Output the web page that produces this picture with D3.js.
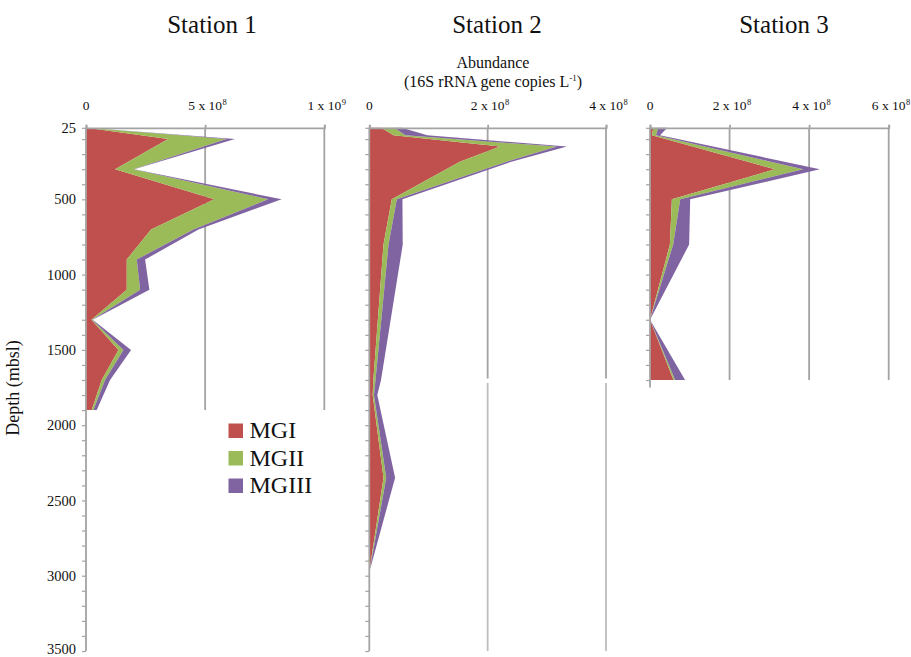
<!DOCTYPE html>
<html>
<head>
<meta charset="utf-8">
<script src="https://cdn.jsdelivr.net/npm/d3@7"></script>
<style>
  html, body { margin: 0; padding: 0; background: #fff; }
  svg { display: block; }
  text { font-family: "Liberation Serif", "Times New Roman", serif; fill: #111; }
</style>
</head>
<body>
<svg id="chart" width="911" height="657"></svg>
<script>
// Archaeal group abundances (16S rRNA gene copies per litre) by depth
const groups = ["MGI", "MGII", "MGIII"];
const groupColors = ["#C0504D", "#9BBB59", "#8064A2"];

const stations = ["Station 1", "Station 2", "Station 3"];

const depth1 = [25, 100, 300, 500, 700, 900, 1100, 1300, 1500, 1700, 1900];
const mgi1   = [2e6, 3.45e8, 1.22e8, 5.38e8, 2.73e8, 1.71e8, 1.71e8, 2.3e7, 1.36e8, 6.6e7, 2.4e7];
const mgii1  = [3e6, 2.45e8, 7.7e7, 2.27e8, 1.78e8, 4.2e7, 5.6e7, 3e6, 2.1e7, 1.4e7, 7e6];
const mgiii1 = [1e6, 3.5e7, 3e6, 5.6e7, 2.1e7, 3.5e7, 3.9e7, 2e6, 3.2e7, 2.1e7, 1.4e7];

const depth2 = [25, 75, 150, 250, 500, 800, 1700, 1800, 2350, 2950];
const mgi2   = [2.0e7, 4.1e7, 2.21e8, 1.53e8, 3.8e7, 2.4e7, 6.8e6, 5.7e6, 2.4e7, 1e6];
const mgii2  = [2.2e7, 2.0e7, 9.6e7, 7.9e7, 8.5e6, 8.5e6, 3.7e6, 2.2e6, 4.6e6, 3e5];
const mgiii2 = [1.3e7, 3.7e7, 1.7e7, 8e6, 9.5e6, 2.4e7, 9.3e6, 5.6e6, 1.5e7, 5e5];

const depth3 = [25, 75, 300, 500, 800, 1300, 1700];
const mgi3   = [8.3e6, 5e6, 3.14e8, 5.5e7, 5e7, 0, 5.9e7];
const mgii3  = [1.26e7, 1e7, 7.1e7, 2.1e7, 8.4e6, 0, 4.2e6];
const mgiii3 = [2.26e7, 1e7, 4.2e7, 2.5e7, 4e7, 0, 2.5e7];

const xTicks1 = [0, 5e8, 1e9];
const xTicks2 = [0, 2e8, 4e8];
const xTicks3 = [0, 2e8, 4e8, 6e8];

const depthLabels = [25, 500, 1000, 1500, 2000, 2500, 3000, 3500];
const depthMinor = d3.range(100, 3501, 100);

const FONT = '"Liberation Serif", "Times New Roman", serif';
const svg = d3.select("#chart");
svg.append("rect").attr("width", 911).attr("height", 657).attr("fill", "#fff");

const y = d3.scaleLinear().domain([25, 3500]).range([127.8, 651]);

// gridSegments: depth spans over which the vertical gridlines are drawn
const panels = [
  { depth: depth1, series: [mgi1, mgii1, mgiii1], ticks: xTicks1, range: [86, 324.3],
    gridSegments: [[25, 1900, "#a3a3a3"]], axisEnd: 3500, showLabels: true, titleX: 212, name: stations[0] },
  { depth: depth2, series: [mgi2, mgii2, mgiii2], ticks: xTicks2, range: [369.3, 606],
    gridSegments: [[25, 1690, "#a3a3a3"], [1720, 3500, "#bdbdbd"]], axisEnd: 3500, showLabels: false, titleX: 497, name: stations[1] },
  { depth: depth3, series: [mgi3, mgii3, mgiii3], ticks: xTicks3, range: [650, 888.7],
    gridSegments: [[25, 1700, "#a3a3a3"]], axisEnd: 1750, showLabels: false, titleX: 784, name: stations[2] }
];

const axisColor = "#a3a3a3";

function sciParts(v) {
  if (v === 0) return ["0", ""];
  const e = Math.floor(Math.log10(v) + 1e-9);
  const m = Math.round(v / Math.pow(10, e));
  return [m + " x 10", String(e)];
}

panels.forEach(p => {
  const x = d3.scaleLinear().domain([0, p.ticks[p.ticks.length - 1]]).range(p.range);
  const g = svg.append("g");

  // station title
  svg.append("text")
    .attr("x", p.titleX).attr("y", 33)
    .attr("text-anchor", "middle")
    .style("font-family", FONT)
    .style("font-size", "25px")
    .text(p.name);

  // vertical gridlines
  p.gridSegments.forEach(([d0, d1, col]) => {
    g.append("g").selectAll("line")
      .data(p.ticks.slice(1))
      .join("line")
      .attr("x1", d => x(d)).attr("x2", d => x(d))
      .attr("y1", y(d0)).attr("y2", y(d1))
      .attr("stroke", col).attr("stroke-width", 1.8);
  });

  // stacked areas
  const rows = p.depth.map((d, i) => ({
    depth: d, MGI: p.series[0][i], MGII: p.series[1][i], MGIII: p.series[2][i]
  }));
  const stacked = d3.stack().keys(groups)(rows);
  const area = d3.area()
    .y(d => y(d.data.depth))
    .x0(d => x(d[0]))
    .x1(d => x(d[1]));
  g.selectAll("path.layer")
    .data(stacked)
    .join("path")
    .attr("class", "layer")
    .attr("d", area)
    .attr("fill", (d, i) => groupColors[i]);

  // top value axis
  const xAxis = d3.axisTop(x).tickValues(p.ticks).tickSize(3).tickFormat("");
  const xg = svg.append("g").attr("transform", `translate(0,${y(25)})`).call(xAxis);
  xg.select(".domain").attr("stroke", axisColor).attr("stroke-width", 1.8);
  xg.selectAll(".tick line").attr("stroke", axisColor).attr("stroke-width", 1.8);

  p.ticks.forEach(v => {
    const [main, sup] = sciParts(v);
    const t = svg.append("text")
      .attr("x", x(v)).attr("y", 110)
      .attr("text-anchor", "middle")
      .style("font-family", FONT)
      .style("font-size", "13.5px")
      .text(main);
    if (sup) {
      const w = t.node().getComputedTextLength();
      svg.append("text")
        .attr("x", x(v) + w / 2 + 0.5).attr("y", 105)
        .style("font-family", FONT)
        .style("font-size", "8.5px")
        .text(sup);
    }
  });

  // depth axis
  const tv = [25].concat(depthMinor.filter(d => d <= p.axisEnd));
  const yAxis = d3.axisLeft(y).tickValues(tv).tickSize(4).tickPadding(6)
    .tickFormat(d => (p.showLabels && depthLabels.includes(d)) ? d : "");
  const yg = svg.append("g").attr("transform", `translate(${p.range[0]},0)`).call(yAxis);
  yg.select(".domain").attr("d", `M-0,${y(25)}V${y(p.axisEnd)}`)
    .attr("stroke", axisColor).attr("stroke-width", 1.8);
  yg.selectAll(".tick line").attr("stroke", axisColor).attr("stroke-width", 1.2);
  yg.selectAll(".tick text")
    .style("font-family", FONT).style("font-size", "14.5px").attr("fill", "#111")
    .attr("dy", d => d === 3500 ? "0.2em" : "0.32em");
});

// shared axis titles
svg.append("text")
  .attr("x", 493).attr("y", 68).attr("text-anchor", "middle")
  .style("font-family", FONT)
  .style("font-size", "16px").text("Abundance");
const unit = svg.append("text")
  .attr("x", 493).attr("y", 86.5).attr("text-anchor", "middle")
  .style("font-family", FONT)
  .style("font-size", "16px");
unit.append("tspan").text("(16S rRNA gene copies L");
unit.append("tspan").attr("dy", -6).style("font-size", "9px").text("-1");
unit.append("tspan").attr("dy", 6).text(")");

svg.append("text")
  .attr("transform", "translate(19,388) rotate(-90)")
  .attr("text-anchor", "middle")
  .style("font-family", FONT)
  .style("font-size", "18px")
  .text("Depth (mbsl)");

// legend
const legend = svg.append("g").attr("transform", "translate(228.5,423.5)");
groups.forEach((name, i) => {
  legend.append("rect")
    .attr("x", 0).attr("y", i * 27.5)
    .attr("width", 14.5).attr("height", 14.5)
    .attr("fill", groupColors[i]);
  legend.append("text")
    .attr("x", 21).attr("y", i * 27.5 + 14.8)
    .style("font-family", FONT)
    .style("font-size", "24px")
    .text(name);
});
</script>
</body>
</html>
